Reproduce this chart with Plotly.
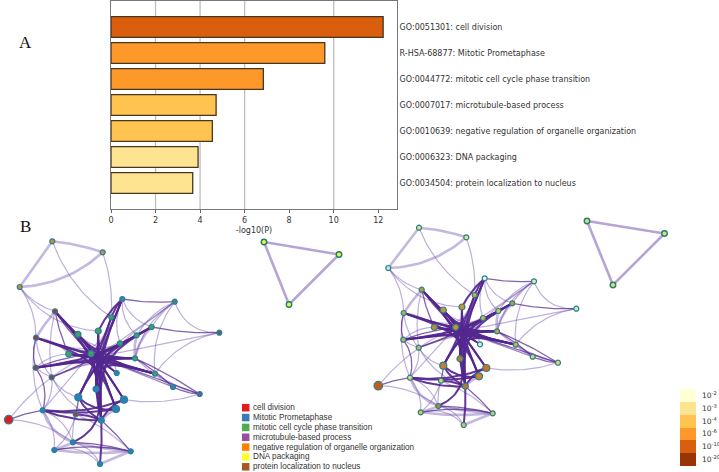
import numpy as np
import plotly.graph_objects as go

W, H = 719, 472

# ---- Panel A data
bar_terms = ["GO:0051301: cell division", "R-HSA-68877: Mitotic Prometaphase",
             "GO:0044772: mitotic cell cycle phase transition", "GO:0007017: microtubule-based process",
             "GO:0010639: negative regulation of organelle organization", "GO:0006323: DNA packaging",
             "GO:0034504: protein localization to nucleus"]
bar_values = [12.22, 9.6, 6.84, 4.72, 4.55, 3.91, 3.67]
bar_colors = ["#d95f0e", "#fe9929", "#fe9929", "#fec44f", "#fec44f", "#fee391", "#fee391"]
grid_values = [2, 4, 6, 10]

# ---- Panel B data (network node positions, in picture pixels)
left_x = [52.3, 102.7, 19.7, 122.3, 174.7, 219.3, 111.3, 98.3, 78, 136.7, 120, 151.7, 68.7, 91, 135, 155,
          116.7, 55, 36, 35.7, 51.7, 173, 199.7, 96, 78.3, 124, 116, 42.7, 75.7, 101.3, 8.7, 73, 54.3, 130.7, 100]
left_y = [241.3, 252.3, 287, 299, 301.7, 332.7, 317.3, 331, 334.3, 335.3, 343.3, 327, 354, 353.7, 358.3, 373.7,
          373, 311.3, 337.7, 367.7, 377.3, 387, 394, 389, 397.3, 399.7, 409, 410.3, 414.3, 420.3, 419.7, 442.3, 450, 451.3, 464]
right_x = [419, 466.3, 388.3, 484.7, 534, 576.3, 474.7, 462, 443.3, 498.3, 483, 512.3, 434.3, 455.7, 497, 515.7,
           480, 421.7, 403.7, 403.3, 418.7, 532.7, 558, 460, 443.3, 486.3, 479, 410, 441, 465.3, 378.3, 438.3, 420.7, 492.7, 463.7]
right_y = [227.7, 237.3, 268, 278.3, 281.3, 308.7, 295, 307, 310, 311, 318, 303.3, 327.3, 327.3, 331.3, 344.7,
           344.3, 289.7, 313, 339.7, 347.7, 356.7, 362.7, 358.7, 365.7, 368, 376.3, 377.7, 380.7, 386.3, 385.7, 406, 412.3, 413.3, 425]
left_fill = ["#c8902f", "#c8902f", "#c8902f", "#4a7f90", "#4f7f78", "#5a6a60",
             "#3fa268", "#3fa268", "#3fa268", "#3fa268", "#3fa268", "#3fa268", "#3fa268", "#3fa268", "#3fa268", "#3fa268",
             "#3a80b8", "#a83a3a", "#a03a40", "#a03a40", "#a03a40", "#4a78a8", "#6a5aa0",
             "#2a80bb", "#2a80bb", "#2a80bb", "#2a80bb", "#2a80bb", "#a83a3a", "#2a80bb", "#e41a1c",
             "#2a80bb", "#2a80bb", "#2a80bb", "#2a80bb"]
right_fill = ["#e0dd90", "#e4e090", "#c0e8d8", "#e0f5e8", "#e8e8b0", "#c8e8d0", "#c8a850", "#d09030", "#c89838",
              "#d8c060", "#c8b060", "#b89840", "#c88a30", "#d09030", "#c8a040", "#d0b040", "#d8f0e0", "#b0a040",
              "#b0b060", "#c0b060", "#c0b070", "#d8d080", "#e0d870", "#c07828", "#c08030", "#d07020", "#d08028",
              "#e0d880", "#e0d070", "#c07828", "#c85a18", "#b08838", "#d8c050", "#d0c060", "#d8c060"]
node_sizes = [5, 5, 5, 5, 5, 5, 5, 6, 6, 5, 5, 5, 6, 6, 5, 5, 5, 5, 5, 5, 5, 5, 5, 6, 7, 7, 7, 5, 5, 6, 8.5, 5, 5, 5, 5]
left_hub = (97.5, 358)
right_hub = (461.5, 332)

# edges that bundle through the hub
dark_hub_edges = [(17, 23), (17, 29), (18, 26), (18, 14), (19, 14), (19, 15), (11, 12), (11, 19), (3, 23), (3, 29),
                  (7, 29), (6, 24), (7, 23), (8, 25), (8, 15), (12, 15), (17, 14), (9, 24), (13, 26), (14, 24),
                  (10, 29), (13, 25), (15, 23), (11, 29)]
mid_hub_edges = [(17, 16), (11, 20), (8, 16), (10, 18), (9, 19), (6, 12), (3, 12), (7, 15), (14, 12), (13, 16),
                 (10, 12), (7, 26), (15, 18), (16, 23), (8, 26), (6, 29), (12, 29), (8, 29), (22, 13)]
light_hub_edges = [(13, 9), (12, 9), (8, 11), (6, 18), (20, 10), (16, 20), (21, 13), (21, 7), (14, 7), (17, 9),
                   (4, 13), (4, 16), (5, 13), (20, 14), (19, 16)]
# edges with a direct curve: node, node, bend
dark_curve_edges = [(27, 26, 0.04), (27, 29, 0.05), (28, 29, -0.05), (27, 25, 0.06), (24, 26, 0.12), (24, 29, 0.08),
                    (31, 23, 0.22), (34, 29, 0.02), (23, 29, 0.02), (25, 29, 0.1), (3, 7, 0.05), (3, 6, 0.05)]
mid_curve_edges = [(31, 33, -0.03), (32, 33, -0.05), (33, 29, 0.02), (30, 27, -0.03), (22, 14, 0.02), (21, 14, 0.03),
                   (5, 11, -0.03), (3, 4, 0.03), (19, 27, -0.12), (18, 19, 0.08), (28, 24, 0.03),
                   (22, 21, -0.05), (17, 8, 0.03), (17, 13, 0.03), (18, 13, 0.02), (19, 13, -0.03), (17, 12, 0.03)]
light_curve_edges = [(0, 6, 0.08), (1, 6, -0.05), (2, 7, 0.12), (2, 18, -0.08), (2, 17, 0.08), (4, 15, 0.1), (4, 14, 0.1),
                     (4, 9, 0.08), (4, 11, 0.05), (5, 15, 0.1), (5, 4, -0.18), (3, 9, 0.12), (3, 10, 0.1), (3, 11, 0.12),
                     (18, 20, 0.08), (17, 20, 0.05), (27, 20, 0.1), (20, 29, 0.1), (27, 13, 0.0), (28, 31, 0.05),
                     (30, 31, -0.08), (30, 13, -0.06), (25, 22, 0.06), (32, 27, 0.1), (31, 27, 0.12), (32, 28, 0.08),
                     (34, 31, 0.12), (34, 32, 0.15), (18, 27, 0.08), (15, 21, 0.05), (15, 22, 0.05), (14, 22, 0.06),
                     (19, 20, 0.05), (19, 12, -0.1), (18, 12, -0.1), (20, 24, 0.1), (28, 33, -0.05), (16, 10, -0.12)]
wide_curve_edges = [(0, 1, -0.03), (0, 2, 0.0), (1, 2, -0.09), (17, 18, 0.02), (11, 14, 0.08), (9, 14, 0.05),
                    (32, 31, 0.02), (34, 33, 0.0), (31, 33, 0.02), (32, 33, 0.03), (27, 31, 0.12), (26, 29, 0.05)]

# small triangles
tri_left_x = [264, 339, 289]
tri_left_y = [242, 254.5, 304.5]
tri_right_x = [587, 664.5, 613]
tri_right_y = [221, 233.5, 285]
tri_left_fill = "#e8f04a"
tri_right_fill = "#e8d878"

# legends
legend_labels = ["cell division", "Mitotic Prometaphase", "mitotic cell cycle phase transition",
                 "microtubule-based process", "negative regulation of organelle organization",
                 "DNA packaging", "protein localization to nucleus"]
legend_colors = ["#e41a1c", "#377eb8", "#4daf4a", "#984ea3", "#ff7f00", "#ffff33", "#a65628"]
scale_labels = ["10<sup>-2</sup>", "10<sup>-3</sup>", "10<sup>-4</sup>", "10<sup>-6</sup>", "10<sup>-10</sup>", "10<sup>-20</sup>"]
scale_colors = ["#ffffd4", "#fee391", "#fec44f", "#fe9929", "#d95f0e", "#993404"]


def direct_curve(a, b, bend):
    a, b = np.array(a, float), np.array(b, float)
    d = b - a
    c = (a + b) / 2 + 2 * bend * np.array([-d[1], d[0]])
    t = np.linspace(0, 1, 24)[:, None]
    return (1 - t) ** 2 * a + 2 * t * (1 - t) * c + t ** 2 * b


def hub_curve(a, b, hub):
    a, b, h = np.array(a, float), np.array(b, float), np.array(hub, float)
    c1, c2 = h + (a - h) * 0.12, h + (b - h) * 0.12
    t = np.linspace(0, 1, 30)[:, None]
    return (1 - t) ** 3 * a + 3 * t * (1 - t) ** 2 * c1 + 3 * t ** 2 * (1 - t) * c2 + t ** 3 * b


def path_xy(curves):
    xs, ys = [], []
    for c in curves:
        xs += list(c[:, 0]) + [None]
        ys += list(c[:, 1]) + [None]
    return xs, ys


fig = go.Figure()

fig.add_trace(go.Bar(x=bar_values, y=bar_terms, orientation="h", width=0.8, xaxis="x", yaxis="y",
                     marker=dict(color=bar_colors, line=dict(color="#4a3520", width=1.3)), showlegend=False))

styles = [("wide", "rgba(150,125,195,0.55)", 2.6), ("light", "rgba(110,80,170,0.45)", 1.2),
          ("mid", "rgba(84,39,143,0.72)", 1.3), ("dark", "rgba(84,39,143,0.92)", 2.0)]

for px, py, hub, fill, border in [(left_x, left_y, left_hub, left_fill, "#2a7f9a"),
                                  (right_x, right_y, right_hub, right_fill, "#2a8088")]:
    pts = list(zip(px, py))
    groups = {
        "wide": [direct_curve(pts[a], pts[b], k) for a, b, k in wide_curve_edges],
        "light": [direct_curve(pts[a], pts[b], k) for a, b, k in light_curve_edges]
                 + [hub_curve(pts[a], pts[b], hub) for a, b in light_hub_edges],
        "mid": [direct_curve(pts[a], pts[b], k) for a, b, k in mid_curve_edges]
               + [hub_curve(pts[a], pts[b], hub) for a, b in mid_hub_edges],
        "dark": [direct_curve(pts[a], pts[b], k) for a, b, k in dark_curve_edges]
                + [hub_curve(pts[a], pts[b], hub) for a, b in dark_hub_edges],
    }
    for name, color, width in styles:
        xs, ys = path_xy(groups[name])
        fig.add_trace(go.Scatter(x=xs, y=ys, mode="lines", xaxis="x2", yaxis="y2", showlegend=False,
                                 hoverinfo="skip", line=dict(color=color, width=width)))
    fig.add_trace(go.Scatter(x=px, y=py, mode="markers", xaxis="x2", yaxis="y2", showlegend=False,
                             marker=dict(color=fill, size=node_sizes, opacity=1, line=dict(color=border, width=1.2))))

for tx, ty, fill in [(tri_left_x, tri_left_y, tri_left_fill), (tri_right_x, tri_right_y, tri_right_fill)]:
    fig.add_trace(go.Scatter(x=tx + tx[:1], y=ty + ty[:1], mode="lines", xaxis="x2", yaxis="y2", showlegend=False,
                             line=dict(color="rgba(150,125,195,0.7)", width=2.6)))
    fig.add_trace(go.Scatter(x=tx, y=ty, mode="markers", xaxis="x2", yaxis="y2", showlegend=False,
                             marker=dict(color=fill, size=5.5, line=dict(color="#1f8070", width=1.4))))

# category legend
legend_y = [407.7 + 9.85 * i for i in range(len(legend_labels))]
fig.add_trace(go.Scatter(x=[245.7] * len(legend_labels), y=legend_y, mode="markers", xaxis="x2", yaxis="y2",
                         showlegend=False, marker=dict(symbol="square", size=7.5, color=legend_colors)))
annotations = []
for lab, yy in zip(legend_labels, legend_y):
    annotations.append(dict(x=250.5, y=yy, xref="x2", yref="y2", text=lab, showarrow=False, xanchor="left",
                            yanchor="middle", font=dict(family="Liberation Sans", size=8.2, color="#333333")))

# p-value scale
fig.add_trace(go.Heatmap(z=[[i] for i in range(6)], x=[0], y=list(range(6)), xaxis="x3", yaxis="y3", showscale=False,
                         zmin=-0.5, zmax=5.5, hoverinfo="skip",
                         colorscale=[v for i, c in enumerate(scale_colors) for v in ([i / 6, c], [(i + 1) / 6, c])]))
for i, lab in enumerate(scale_labels):
    annotations.append(dict(x=699.5, y=395.3 + 12.65 * i, xref="x2", yref="y2", text=lab, showarrow=False,
                            xanchor="left", yanchor="middle",
                            font=dict(family="DejaVu Sans", size=7.5, color="#333333")))

for lab, yy in [("A", 42), ("B", 226)]:
    annotations.append(dict(x=25, y=yy, xref="x2", yref="y2", text=lab, showarrow=False, xanchor="center",
                            yanchor="middle", font=dict(family="Liberation Serif", size=17, color="#111111")))

shapes = [dict(type="line", x0=v, x1=v, xref="x", y0=0, y1=1, yref="y domain", layer="below",
               line=dict(color="#bdbdbd", width=1.3)) for v in grid_values]

fig.update_layout(
    width=W, height=H, margin=dict(l=0, r=0, t=0, b=0, autoexpand=False), paper_bgcolor="white",
    plot_bgcolor="rgba(0,0,0,0)",
    showlegend=False, annotations=annotations, shapes=shapes,
    font=dict(family="DejaVu Sans", size=8, color="#333333"),
    xaxis=dict(domain=[111 / W, 397 / W], range=[0, (397 - 111) / 22.27], showgrid=False, zeroline=False,
               tickvals=[0, 2, 4, 6, 8, 10, 12], ticks="outside", ticklen=3, tickcolor="#666666",
               showline=True, linecolor="#777777", linewidth=1, mirror=True,
               tickfont=dict(size=8, color="#333333"),
               title=dict(text="-log10(P)", font=dict(size=8, color="#333333"), standoff=3)),
    yaxis=dict(domain=[1 - 209 / H, 1 - 1 / H], type="category", categoryorder="array", categoryarray=bar_terms,
               range=[7, -1], side="right", anchor="x", showgrid=False, zeroline=False, ticks="", ticklen=0,
               showline=True, linecolor="#777777", linewidth=1, mirror=True,
               tickfont=dict(size=8, color="#333333")),
    xaxis2=dict(domain=[0, 1], range=[0, W], visible=False, anchor="y2"),
    yaxis2=dict(domain=[0, 1], range=[H, 0], visible=False, anchor="x2"),
    xaxis3=dict(domain=[680 / W, 696 / W], visible=False, anchor="y3"),
    yaxis3=dict(domain=[1 - 466 / H, 1 - 389 / H], autorange="reversed", visible=False, anchor="x3"),
)

fig.write_html("out.html", config=dict(displayModeBar=False),
               post_script="document.documentElement.style.margin='0';document.body.style.margin='0';document.body.style.padding='0';document.body.style.overflow='hidden';var g=document.querySelector('.plotly-graph-div');g.style.position='fixed';g.style.left='0';g.style.top='0';g.style.margin='0';")
